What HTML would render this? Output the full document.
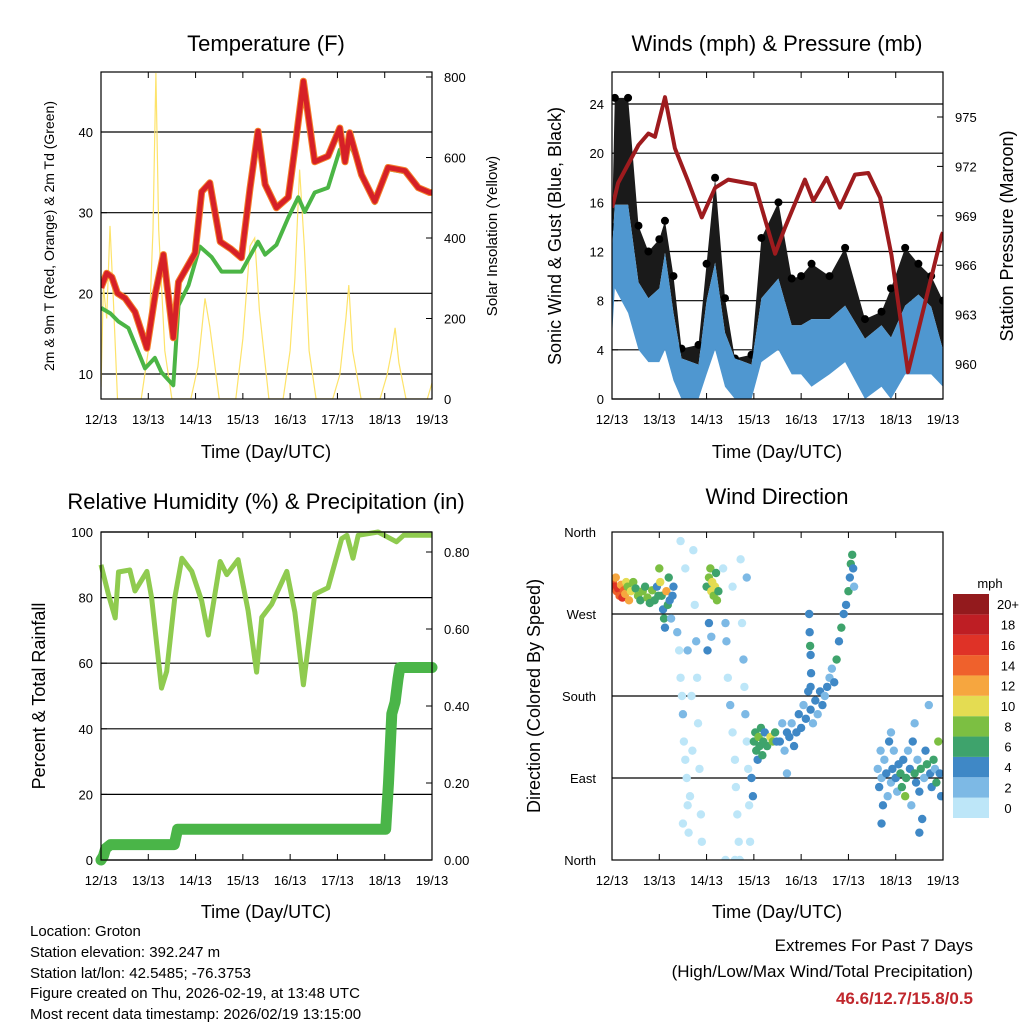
<!DOCTYPE html>
<html><head><meta charset="utf-8"><style>
html,body{margin:0;padding:0;background:#fff;}
svg{display:block;font-family:"Liberation Sans",sans-serif;}
</style></head><body>
<svg id="s" width="1024" height="1024" viewBox="0 0 1024 1024">
<rect width="1024" height="1024" fill="#fff"/>
<g font-size="22" text-anchor="middle" fill="#000">
<text x="266" y="51">Temperature (F)</text>
<text x="777" y="51">Winds (mph) &amp; Pressure (mb)</text>
<text x="266" y="509">Relative Humidity (%) &amp; Precipitation (in)</text>
<text x="777" y="504">Wind Direction</text>
</g>
<g font-size="18" text-anchor="middle">
<text x="266" y="458">Time (Day/UTC)</text>
<text x="777" y="458">Time (Day/UTC)</text>
<text x="266" y="918">Time (Day/UTC)</text>
<text x="777" y="918">Time (Day/UTC)</text>
</g>
<text transform="translate(54,236) rotate(-90)" font-size="14" text-anchor="middle">2m &amp; 9m T (Red, Orange) &amp; 2m Td (Green)</text>
<text transform="translate(497,236) rotate(-90)" font-size="15" text-anchor="middle">Solar Insolation (Yellow)</text>
<text transform="translate(561,236) rotate(-90)" font-size="18" text-anchor="middle">Sonic Wind &amp; Gust (Blue, Black)</text>
<text transform="translate(1013,236) rotate(-90)" font-size="18" text-anchor="middle">Station Pressure (Maroon)</text>
<text transform="translate(45,696) rotate(-90)" font-size="18" text-anchor="middle">Percent &amp; Total Rainfall</text>
<text transform="translate(540,696) rotate(-90)" font-size="18" text-anchor="middle">Direction (Colored By Speed)</text>
<g font-size="15">
<text x="30" y="936">Location: Groton</text>
<text x="30" y="957">Station elevation: 392.247 m</text>
<text x="30" y="978">Station lat/lon: 42.5485; -76.3753</text>
<text x="30" y="998">Figure created on Thu, 2026-02-19, at 13:48 UTC</text>
<text x="30" y="1019">Most recent data timestamp: 2026/02/19 13:15:00</text>
</g>
<g font-size="17" text-anchor="end">
<text x="973" y="951">Extremes For Past 7 Days</text>
<text x="973" y="977">(High/Low/Max Wind/Total Precipitation)</text>
<text x="973" y="1004" fill="#c0272d" font-weight="bold">46.6/12.7/15.8/0.5</text>
</g>
<g id="plots"></g>
</svg>
<script>
// ---- data ----
var dayLabels=["12/13","13/13","14/13","15/13","16/13","17/13","18/13","19/13"];
var tempTicks=[10,20,30,40];
var solarTicks=[0,200,400,600,800];
var windTicks=[0,4,8,12,16,20,24];
var presTicks=[960,963,966,969,972,975];
var rhTicks=[0,20,40,60,80,100];
var precipTicks=["0.00","0.20","0.40","0.60","0.80"];
var dirLabels=["North","East","South","West","North"];
var speedLabels=["0","2","4","6","8","10","12","14","16","18","20+"];
var speedColors=["#bde6f8","#7db9e5","#3f88c6","#3ea36c","#7cbf42","#e4dc52","#f6a63f","#ef612c","#df3227","#be1e24","#931a1d"];

var tT=[0,0.12,0.23,0.35,0.51,0.72,0.97,1.15,1.32,1.53,1.64,1.99,2.13,2.3,2.52,2.75,2.97,3.15,3.32,3.47,3.71,3.96,4.1,4.28,4.52,4.8,5.05,5.16,5.26,5.51,5.79,6.07,6.43,6.71,6.95,7];
var tRed=[20.7,22.5,22,20,19.4,17.7,13.2,20,24.8,14.5,21.4,25,32.6,33.7,26.4,25.5,24.4,33,40.1,33.5,30.6,31.9,38,46.3,36.3,37,40.5,36.3,39.9,34.7,31.4,35.6,35.2,33.1,32.5,32.5];
var tdT=[0,0.2,0.37,0.58,0.93,1.14,1.28,1.53,1.64,1.85,2.09,2.34,2.55,2.97,3.32,3.47,3.71,3.96,4.17,4.31,4.52,4.8,5.05,5.26,5.51,5.79,6.07,6.43,6.71,6.95,7];
var tdV=[18.2,17.5,16.5,15.7,10.7,12,10.2,8.6,18.5,21,25.8,24.5,22.7,22.7,26.4,24.8,26,29.4,31.9,30.1,32.5,33.1,37.8,38.7,34.9,31.2,35.4,35,33,32.4,32.4];
var solT=[0,0.05,0.12,0.19,0.26,0.35,0.85,1.0,1.1,1.16,1.22,1.35,1.5,1.9,2.05,2.2,2.3,2.5,2.85,3.0,3.15,3.25,3.35,3.55,3.85,4.0,4.1,4.2,4.3,4.4,4.55,4.9,5.05,5.18,5.24,5.32,5.5,5.9,6.05,6.15,6.22,6.3,6.45,6.9,7];
var solV=[30,280,200,430,250,0,0,120,420,810,420,120,0,0,80,250,180,0,0,150,380,400,220,0,0,120,300,570,380,120,0,0,60,200,283,120,0,0,60,120,177,90,0,0,40];

var windT=[0,0.06,0.34,0.56,0.77,1.0,1.12,1.3,1.47,1.83,2.0,2.18,2.39,2.6,2.95,3.16,3.52,3.8,4.0,4.22,4.6,4.93,5.35,5.7,5.9,6.2,6.48,6.75,7];
var windHi=[12,15.8,15.8,9.5,8.2,9,11.9,7,3.3,2.8,8,11.1,5.4,3.3,2.8,8.2,9.8,6,6,6.5,6.5,7.6,4.9,6,5,7.6,8.5,7.5,4];
var windLo=[5,9,7,4,3,3,4,1.5,0,0,2,4,1,0,0,3,4,2,2,1,2,3,0,1,0,2,2,2,1];
var gustHi=[14,24.5,24.5,14.1,12,13,14.5,10,4.1,4.4,11,18,8.2,3.3,3.6,13.1,16,9.8,10,11,10,12.3,6.5,7.1,9,12.3,11,10,8];
var presT=[0,0.03,0.13,0.56,0.77,0.91,1.12,1.33,1.61,1.9,2.18,2.46,3.02,3.45,3.66,4.08,4.26,4.54,4.82,5.14,5.42,5.67,5.91,6.26,6.97,7];
var presV=[969.5,969.8,971,973.3,974,973.8,976.2,973.1,971.1,968.9,970.7,971.2,970.9,966.7,968.3,971.2,969.9,971.3,969.5,971.5,971.6,970.1,966.6,959.5,967.8,968];

var rhT=[0,0.16,0.3,0.37,0.61,0.72,0.97,1.07,1.28,1.39,1.56,1.71,1.92,2.13,2.27,2.52,2.66,2.9,3.11,3.29,3.4,3.61,3.93,4.1,4.28,4.52,4.8,5.09,5.2,5.33,5.44,5.86,6.25,6.4,6.92,7];
var rhV=[90,80.8,73.8,87.8,88.4,82,88,80,52.4,57.5,80,92,88,79,68.6,91,87,91.6,76,57.3,74,78,88,75.5,53.4,81,83,98,99,92,99,100,97,99,99,99];
var prT=[0,0.05,0.1,0.2,1.55,1.62,6.02,6.08,6.15,6.22,6.28,6.32,7];
var prV=[0,0.01,0.03,0.04,0.04,0.08,0.08,0.2,0.38,0.41,0.47,0.5,0.5];

var dirPts=[[0.02,305,14],[0.05,300,16],[0.08,310,12],[0.1,295,14],[0.13,298,16],[0.16,290,14],[0.19,302,12],[0.22,288,16],[0.25,296,14],[0.28,292,12],[0.3,305,10],[0.33,300,8],[0.36,285,12],[0.4,295,10],
[0.45,305,8],[0.5,298,6],[0.55,290,8],[0.6,285,6],[0.65,295,8],[0.7,300,6],[0.75,288,8],[0.8,282,6],[0.85,296,8],[0.9,285,6],[0.95,300,4],[0.98,290,6],
[1.0,320,8],[1.02,305,10],[1.05,290,6],[1.08,275,4],[1.1,265,6],[1.12,255,4],[1.15,295,12],[1.18,280,6],[1.2,310,6],[1.22,285,4],[1.25,265,2],[1.28,290,4],[1.3,300,4],
[1.38,250,2],[1.42,230,0],[1.45,200,0],[1.48,180,0],[1.5,160,2],[1.52,130,0],[1.55,110,0],[1.58,90,0],[1.6,60,0],[1.62,30,0],[1.5,40,0],[1.45,350,0],[1.55,320,0],[1.65,70,0],[1.7,120,0],[1.75,280,0],[1.78,240,2],[1.8,200,0],[1.82,150,0],[1.85,100,0],[1.88,50,0],[1.9,20,0],[1.72,340,0],[1.6,230,2],[1.68,180,0],
[2.0,300,6],[2.05,310,8],[2.08,320,8],[2.1,295,10],[2.12,305,10],[2.15,290,8],[2.18,300,10],[2.2,315,6],[2.22,285,8],[2.25,295,6],[2.05,260,4],[2.1,245,2],[2.02,230,4],
[2.35,320,0],[2.4,260,2],[2.42,240,2],[2.45,200,0],[2.5,170,2],[2.55,140,0],[2.6,110,0],[2.62,80,0],[2.65,50,0],[2.68,20,0],[2.7,0,0],[2.75,260,0],[2.78,220,2],[2.8,190,0],[2.82,160,2],[2.85,130,0],[2.88,100,0],[2.9,60,0],[2.92,20,0],[2.55,300,0],[2.72,330,0],[2.85,310,2],[2.4,0,0],[2.6,0,0],
[2.95,90,4],[2.98,70,4],[3.0,130,6],[3.03,140,6],[3.05,120,6],[3.08,110,4],[3.1,135,8],[3.12,125,6],[3.15,145,6],[3.18,115,6],[3.2,130,6],[3.23,140,4],[3.28,125,6],[3.35,135,10],[3.4,130,8],[3.45,140,6],[3.48,130,4],
[3.55,130,4],[3.6,150,2],[3.65,120,2],[3.7,140,4],[3.75,135,4],[3.8,150,2],[3.85,125,4],[3.9,140,4],[3.95,160,4],[4.0,145,4],[4.05,170,2],[4.1,155,4],[4.15,185,4],[4.2,165,4],[4.25,150,2],[3.7,95,2],
[4.17,270,4],[4.18,250,4],[4.19,235,6],[4.2,225,4],[4.21,205,4],[4.2,190,4],
[4.3,175,4],[4.35,160,2],[4.4,185,4],[4.45,170,4],[4.5,180,2],[4.55,190,4],[4.6,200,2],[4.65,210,2],[4.7,195,4],[4.75,220,6],[4.8,240,4],[4.85,255,6],[4.9,270,4],[4.95,280,4],[5.0,295,6],[5.03,310,4],[5.05,325,6],[5.08,335,6],[5.1,320,4],[5.12,300,2],
[5.62,100,2],[5.65,80,4],[5.68,120,2],[5.7,90,2],[5.73,60,4],[5.76,110,2],[5.8,95,4],[5.83,70,2],[5.86,130,4],[5.9,85,2],[5.93,100,4],[5.96,120,2],[6.0,90,4],[6.03,75,2],[6.06,105,4],[6.1,95,6],[6.13,80,6],[6.16,110,4],[6.2,70,8],[6.22,90,6],[6.26,120,2],[6.3,100,4],[6.33,60,2],[6.36,130,4],[6.4,95,6],[6.43,85,4],[6.46,110,2],[6.5,75,4],[6.53,100,6],[6.56,45,4],[6.6,90,2],[6.63,120,4],[6.66,105,6],[6.7,170,2],[6.73,95,4],[6.76,80,4],[6.8,110,6],[6.83,100,2],[6.86,85,6],[6.9,130,8],[6.93,95,4],[6.96,70,4],[5.7,40,4],[5.9,140,2],[6.5,30,4],[6.4,150,2]];

// ---- drawing ----
var NS="http://www.w3.org/2000/svg";
var root=document.getElementById('plots');
function el(tag,attrs,parent){var e=document.createElementNS(NS,tag);for(var k in attrs)e.setAttribute(k,attrs[k]);(parent||root).appendChild(e);return e;}
function lin(d0,d1,p0,p1){return function(v){return p0+(v-d0)/(d1-d0)*(p1-p0);};}
function pathOf(ts,vs,sx,sy){var s="";for(var i=0;i<ts.length;i++)s+=(i?"L":"M")+sx(ts[i]).toFixed(1)+","+sy(vs[i]).toFixed(1);return s;}
function band(ts,lo,hi,sx,sy){var s="";for(var i=0;i<ts.length;i++)s+=(i?"L":"M")+sx(ts[i]).toFixed(1)+","+sy(hi[i]).toFixed(1);for(var j=ts.length-1;j>=0;j--)s+="L"+sx(ts[j]).toFixed(1)+","+sy(lo[j]).toFixed(1);return s+"Z";}

function frame(x0,y0,x1,y1,name){
  var g=el('g',{});
  
  
  var sx=lin(0,7,x0,x1);
  for(var i=0;i<dayLabels.length;i++){
    var x=sx(i);
    el('line',{x1:x,y1:y1,x2:x,y2:y1-6,stroke:'#000','stroke-width':1},g);
    el('line',{x1:x,y1:y0,x2:x,y2:y0+6,stroke:'#000','stroke-width':1},g);
    var t=el('text',{x:x,y:y1+25,'font-size':13,'text-anchor':'middle'},g);t.textContent=dayLabels[i];
    
    
  }
  el('rect',{x:x0,y:y0,width:x1-x0,height:y1-y0,fill:'none',stroke:'#000','stroke-width':1.2},g);
  return sx;
}
function leftTicks(vals,sy,x0,x1,labels,grid){
  for(var i=0;i<vals.length;i++){var y=sy(vals[i]);
    if(grid)el('line',{x1:x0,y1:y,x2:x1,y2:y,stroke:'#000','stroke-width':1.2});
    el('line',{x1:x0,y1:y,x2:x0+6,y2:y,stroke:'#000'});
    var t=el('text',{x:x0-8,y:y+5,'font-size':13,'text-anchor':'end'});t.textContent=labels?labels[i]:vals[i];
    
    }
}
function rightTicks(vals,sy,x1,labels){
  for(var i=0;i<vals.length;i++){var y=sy(vals[i]);
    el('line',{x1:x1,y1:y,x2:x1-6,y2:y,stroke:'#000'});
    var t=el('text',{x:x1+12,y:y+5,'font-size':13,'text-anchor':'start'});t.textContent=labels?labels[i]:vals[i];
    
    }
}

// Panel 1 temperature
(function(){
  var x0=101,x1=432,y0=72,y1=399;
  var sx=lin(0,7,x0,x1), sy=lin(10,40,374,132), ss=lin(0,800,399,77);
  var c=el('clipPath',{id:'c1'});el('rect',{x:x0,y:y0,width:x1-x0,height:y1-y0},c);
  leftTicks(tempTicks,sy,x0,x1,null,true);
  rightTicks(solarTicks,ss,x1,null);
  var g=el('g',{'clip-path':'url(#c1)'});
  var p=el('path',{d:pathOf(solT,solV,sx,ss),fill:'none',stroke:'#fde36a','stroke-width':1.2},g);
  
  
  p=el('path',{d:pathOf(tdT,tdV,sx,sy),fill:'none',stroke:'#4bb545','stroke-width':4,'stroke-linejoin':'round'},g);
  
  
  p=el('path',{d:pathOf(tT,tRed,sx,sy),fill:'none',stroke:'#f47f2a','stroke-width':7,'stroke-linejoin':'round'},g);
  
  
  p=el('path',{d:pathOf(tT,tRed,sx,sy),fill:'none',stroke:'#d62027','stroke-width':5,'stroke-linejoin':'round'},g);
  
  
  frame(x0,y0,x1,y1,'temperature');
})();

// Panel 2 winds
(function(){
  var x0=612,x1=943,y0=72,y1=399;
  var sx=lin(0,7,x0,x1), sy=lin(0,24,399,104), sp=lin(960,975,364,117);
  var c=el('clipPath',{id:'c2'});el('rect',{x:x0,y:y0,width:x1-x0,height:y1-y0},c);
  leftTicks(windTicks,sy,x0,x1,null,true);
  rightTicks(presTicks,sp,x1,null);
  var g=el('g',{'clip-path':'url(#c2)'});
  var p=el('path',{d:band(windT,windHi,gustHi,sx,sy),fill:'#1a1a1a'},g);
  
  
  for(var i=0;i<windT.length;i++){var d=el('circle',{cx:sx(windT[i]),cy:sy(gustHi[i]),r:4,fill:'#000'},g);
    
    }
  p=el('path',{d:band(windT,windLo,windHi,sx,sy),fill:'#4f97d0'},g);
  
  
  p=el('path',{d:pathOf(presT,presV,sx,sp),fill:'none',stroke:'#9e1b1e','stroke-width':4,'stroke-linejoin':'round'},g);
  
  
  frame(x0,y0,x1,y1,'winds');
})();

// Panel 3 RH
(function(){
  var x0=101,x1=432,y0=532,y1=860;
  var sx=lin(0,7,x0,x1), sy=lin(0,100,860,532), sr=lin(0,0.2,860,783);
  var c=el('clipPath',{id:'c3'});el('rect',{x:x0-6,y:y0-6,width:x1-x0+12,height:y1-y0+12},c);
  leftTicks(rhTicks,sy,x0,x1,null,true);
  rightTicks(precipTicks.map(Number),sr,x1,precipTicks);
  var g=el('g',{'clip-path':'url(#c3)'});
  var p=el('path',{d:pathOf(rhT,rhV,sx,sy),fill:'none',stroke:'#8fcb4f','stroke-width':5,'stroke-linejoin':'round'},g);
  
  
  p=el('path',{d:pathOf(prT,prV,sx,sr),fill:'none',stroke:'#4ab548','stroke-width':11,'stroke-linejoin':'round','stroke-linecap':'round'},g);
  
  
  frame(x0,y0,x1,y1,'humidity');
})();

// Panel 4 wind direction
(function(){
  var x0=612,x1=943,y0=532,y1=860;
  var sx=lin(0,7,x0,x1), sy=lin(0,360,860,532);
  var c=el('clipPath',{id:'c4'});el('rect',{x:x0,y:y0,width:x1-x0,height:y1-y0},c);
  for(var i=0;i<dirLabels.length;i++){var y=sy(i*90);
    if(i>0&&i<4)el('line',{x1:x0,y1:y,x2:x1,y2:y,stroke:'#000','stroke-width':1.2});
    var t=el('text',{x:x0-16,y:y+5,'font-size':13,'text-anchor':'end'});t.textContent=dirLabels[i];
    
    }
  var g=el('g',{'clip-path':'url(#c4)'});
  for(var j=0;j<dirPts.length;j++){var q=dirPts[j];var ci=Math.min(10,Math.round(q[2]/2));
    var d=el('circle',{cx:sx(q[0]),cy:sy(q[1]),r:4.2,fill:speedColors[ci]},g);
    
    }
  frame(x0,y0,x1,y1,'direction');
  var cb=el('g',{});
  
  
  var t=el('text',{x:990,y:588,'font-size':13,'text-anchor':'middle'},cb);t.textContent='mph';
  var h=224/11;
  for(var k=0;k<speedColors.length;k++){var yy=818-(k+1)*h;
    el('rect',{x:953,y:yy,width:36,height:h,fill:speedColors[k]},cb);
    var lt=el('text',{x:1008,y:yy+h/2+5,'font-size':13,'text-anchor':'middle'},cb);lt.textContent=speedLabels[k];
    
    }
})();
</script>
</body></html>
